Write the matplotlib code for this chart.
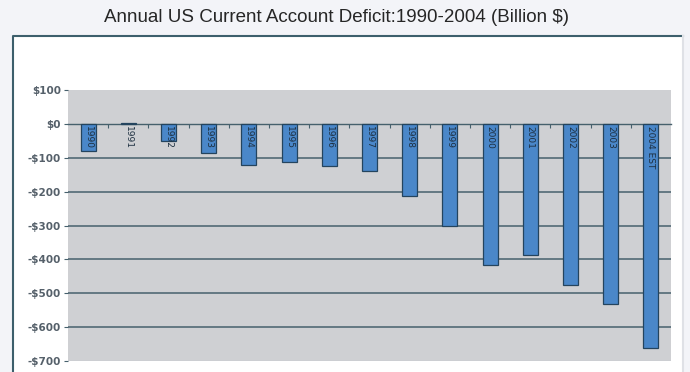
import numpy as np
import matplotlib.pyplot as plt
from matplotlib.patches import Rectangle
from matplotlib.lines import Line2D

# annual current account balance, billions of dollars
years = ["1990", "1991", "1992", "1993", "1994", "1995", "1996", "1997",
         "1998", "1999", "2000", "2001", "2002", "2003", "2004 EST"]
balance = [-80, 3, -50, -85, -121, -113, -124, -138, -213, -301,
           -417, -388, -475, -531, -663]
yticks = [100, 0, -100, -200, -300, -400, -500, -600, -700]
ytick_labels = ["$100", "$0", "-$100", "-$200", "-$300", "-$400",
                "-$500", "-$600", "-$700"]

fig = plt.figure(figsize=(6.9, 3.72), dpi=100)
fig.patch.set_facecolor("#f3f4f8")

# white panel behind the chart
x0, x1, ytop = 12.5 / 690, 683 / 690, 1 - 35.5 / 372
panel = Rectangle((x0, -0.05), x1 - x0, ytop + 0.05,
                  transform=fig.transFigure, facecolor="white",
                  edgecolor="none", zorder=-2)
fig.patches.append(panel)
fig.lines.append(Line2D([x0, x0, x1], [0, ytop, ytop], transform=fig.transFigure,
                        color="#3d5f6c", lw=1.5, zorder=-1))
fig.lines.append(Line2D([x1, x1], [0, ytop], transform=fig.transFigure,
                        color="#dfe1e6", lw=1.5, zorder=-1))

fig.text(0.488, 0.952, "Annual US Current Account Deficit:1990-2004 (Billion $)",
         ha="center", va="center", fontsize=13.5, color="#262626",
         family="Liberation Sans")

ax = fig.add_axes([68 / 690, 1 - 361 / 372, 603 / 690, 271 / 372])
ax.set_facecolor("#cfd0d3")

x = np.arange(len(years))
ax.bar(x, balance, width=0.37, color="#4a87c9", edgecolor="#24445e",
       lw=0.9, zorder=3)

for xi, lab in zip(x, years):
    ax.text(xi, -5, lab, rotation=270, ha="center", va="top",
            fontsize=6.5, color="#1d2f40", zorder=4,
            family=["Liberation Sans Narrow", "DejaVu Sans"])

for v in yticks[2:-1]:
    ax.axhline(v, color="#46606c", lw=1.1, zorder=1)
ax.axhline(-700, color="#9fb4c4", lw=0.8, zorder=1)

ax.set_xlim(-0.5, len(years) - 0.5)
ax.set_ylim(-700, 100)
ax.set_yticks(yticks)
ax.set_yticklabels(ytick_labels)
ax.tick_params(axis="y", length=3, width=0.8, color="#46606c",
               labelsize=7.5, labelcolor="#55606a", pad=2)
for t in ax.get_yticklabels():
    t.set_fontweight("bold")

# category axis sits on the zero line with ticks between bars
ax.spines["bottom"].set_position(("data", 0))
ax.spines["bottom"].set_color("#46606c")
ax.spines["bottom"].set_linewidth(1.0)
ax.spines["bottom"].set_zorder(2)
ax.set_xticks(x[:-1] + 0.5)
ax.set_xticklabels([])
ax.tick_params(axis="x", length=3, width=0.8, color="#46606c", direction="out")
for s in ["top", "left", "right"]:
    ax.spines[s].set_visible(False)

fig.savefig("out.png", dpi=100, facecolor=fig.get_facecolor())
